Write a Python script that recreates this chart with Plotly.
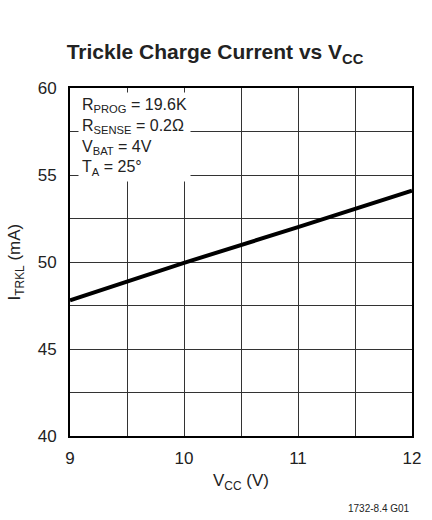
import plotly.graph_objects as go

vcc = [9, 10, 11, 12]
itrkl = [47.8, 49.95, 52.0, 54.1]
x_ticks = [9, 10, 11, 12]
y_ticks = [40, 45, 50, 55, 60]

FONT = "Liberation Sans Narrow, Arial Narrow, Liberation Sans, Arial, sans-serif"

fig = go.Figure()
fig.add_trace(go.Scatter(x=vcc, y=itrkl, mode="lines",
                         line=dict(color="black", width=4), showlegend=False))

fig.update_layout(
    width=432, height=520,
    margin=dict(l=70, r=11, t=88, b=84),
    paper_bgcolor="white", plot_bgcolor="white",
    font=dict(family=FONT, color="#222", size=16),
    title=dict(text="<b>Trickle Charge Current vs V<sub>CC</sub></b>",
               x=215/432, xanchor="center", y=1-52/520, yanchor="middle",
               font=dict(size=21, family=FONT, color="#222")),
)
fig.update_xaxes(range=[9, 12], tickvals=x_ticks, showgrid=True,
                 gridcolor="#333", gridwidth=1,
                 minor=dict(dtick=0.5, showgrid=True, gridcolor="#333", gridwidth=1),
                 showline=True, mirror=True, linecolor="black", linewidth=2,
                 ticks="", zeroline=False, ticklabelstandoff=6,
                 tickfont=dict(size=17))
fig.update_yaxes(range=[40, 60], tickvals=y_ticks, showgrid=True,
                 gridcolor="#333", gridwidth=1,
                 minor=dict(dtick=2.5, showgrid=True, gridcolor="#333", gridwidth=1),
                 showline=True, mirror=True, linecolor="black", linewidth=2,
                 ticks="", zeroline=False, ticklabelstandoff=8,
                 tickfont=dict(size=17))

fig.add_annotation(text="R<sub>PROG</sub> = 19.6K<br>R<sub>SENSE</sub> = 0.2Ω<br>V<sub>BAT</sub> = 4V<br>T<sub>A</sub> = 25°",
                   xref="paper", yref="paper", x=0.022, y=0.988,
                   xanchor="left", yanchor="top", align="left", showarrow=False,
                   bgcolor="white", borderpad=3, font=dict(size=16, family=FONT, color="#222"))
fig.add_annotation(text="V<sub>CC</sub> (V)", xref="paper", yref="paper",
                   x=0.5, y=-46/348, xanchor="center", yanchor="middle",
                   showarrow=False, font=dict(size=17, family=FONT, color="#222"))
fig.add_annotation(text="I<sub>TRKL</sub> (mA)", xref="paper", yref="paper",
                   x=-55/351, y=0.5, xanchor="center", yanchor="middle", textangle=-90,
                   showarrow=False, font=dict(size=17, family=FONT, color="#222"))
fig.add_annotation(text="1732-8.4 G01", xref="paper", yref="paper",
                   x=1.0, y=-72/348, xanchor="right", yanchor="middle",
                   showarrow=False, font=dict(size=10, family=FONT, color="#222"))

fig.write_html("out.html", config={"displayModeBar": False},
               post_script="document.body.style.margin='0';")
